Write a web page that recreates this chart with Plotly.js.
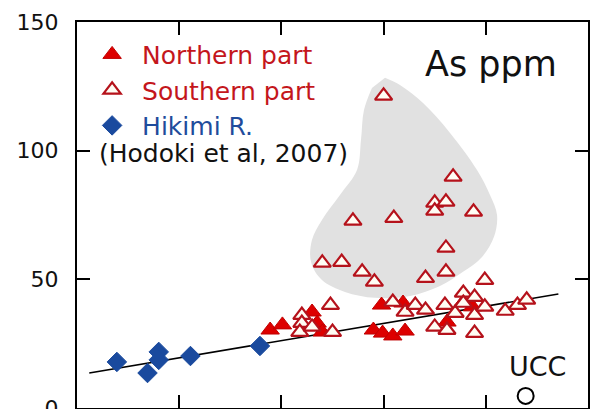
<!DOCTYPE html>
<html>
<head>
<meta charset="utf-8">
<script src="https://cdn.plot.ly/plotly-3.0.1.min.js"></script>
<style>html,body{margin:0;padding:0;background:#fff;}#chart{width:590px;height:409px;}</style>
</head>
<body>
<div id="chart"></div>
<script>
// Northern part (filled triangles)
const northX = [1.89, 2.01, 2.30, 2.35, 2.40, 2.90, 2.99, 3.09, 3.21, 2.98, 3.19, 3.78, 3.87, 3.62];
const northY = [30.3, 32.3, 37.3, 33.0, 29.5, 30.3, 29.1, 28.0, 29.9, 40.0, 40.8, 41.2, 39.3, 33.4];
// Southern part (open triangles)
const southX = [3.00, 3.68, 3.50, 3.61, 3.50, 3.88, 2.70, 3.10, 3.61, 2.40, 2.59, 2.79, 2.91, 3.41, 3.61, 3.99,
                2.48, 2.20, 2.20, 2.18, 2.30, 2.50, 3.09, 3.21, 3.31, 3.41, 3.60, 3.70, 3.50, 3.62, 3.78, 3.89,
                3.78, 3.89, 3.99, 3.89, 4.19, 4.31, 4.40];
const southY = [121.3, 89.8, 79.7, 80.1, 76.6, 76.2, 72.7, 73.8, 62.2, 56.4, 56.7, 52.9, 49.0, 50.5, 52.9, 49.7,
                40.0, 36.1, 33.0, 29.5, 31.5, 29.5, 41.2, 37.3, 40.0, 38.1, 40.0, 36.9, 31.5, 30.3, 44.7, 43.1,
                40.8, 36.1, 39.3, 29.1, 37.7, 40.0, 42.0];
// Hikimi R. (Hodoki et al, 2007)
const hikimiX = [0.39, 0.69, 0.80, 0.80, 1.11, 1.79];
const hikimiY = [17.9, 13.6, 21.8, 18.7, 20.2, 24.1];
// UCC
const uccX = [4.39];
const uccY = [4.7];
// Regression line end points
const fitX = [0.12, 4.71];
const fitY = [13.6, 44.3];
// Grey field outline
const fieldX = [3.014, 3.160, 3.386, 3.650, 3.914, 4.041, 4.110, 4.080, 3.963, 3.777, 3.552, 3.258, 2.916, 2.622,
                2.397, 2.290, 2.299, 2.397, 2.573, 2.740, 2.779, 2.808, 2.886];
const fieldY = [128.3, 125.5, 118.5, 106.9, 92.5, 82.8, 75.0, 66.5, 58.7, 52.9, 47.4, 43.5, 42.8, 45.1,
                49.7, 56.7, 65.3, 73.1, 82.8, 92.5, 104.2, 115.8, 124.4];
const yTicks = [0, 50, 100, 150];

const FONT = 'DejaVu Sans, Verdana, sans-serif';

const traces = [
  {x: fieldX, y: fieldY, mode: 'lines', fill: 'toself', fillcolor: '#e1e1e1',
   line: {width: 0, shape: 'spline', smoothing: 1}, showlegend: false, hoverinfo: 'skip'},
  {x: fitX, y: fitY, mode: 'lines', line: {color: '#000', width: 1.6}, showlegend: false, hoverinfo: 'skip'},
  {x: northX, y: northY, mode: 'markers', name: '<span style="color:#c4161c">Northern part</span>', legendrank: 1,
   marker: {symbol: 'triangle-up', size: 16, color: '#dd0000', line: {color: '#c00000', width: 1}}},
  {x: southX, y: southY, mode: 'markers', name: '<span style="color:#c4161c">Southern part</span>', legendrank: 2,
   marker: {symbol: 'triangle-up', size: 15, color: '#fffdf4', line: {color: '#b5121b', width: 2.2}}},
  {x: hikimiX, y: hikimiY, mode: 'markers', name: '<span style="color:#1f4c9c">Hikimi R.</span>', legendrank: 3,
   marker: {symbol: 'diamond', size: 15, color: '#1a4a9e', line: {color: '#1a4a9e', width: 1}}},
  {x: uccX, y: uccY, mode: 'markers', showlegend: false,
   marker: {symbol: 'circle-open', size: 16, color: '#000', line: {color: '#000', width: 2}}}
];

const layout = {
  width: 590, height: 409,
  margin: {l: 77, r: 2, t: 22, b: 1, pad: 0},
  paper_bgcolor: '#fff', plot_bgcolor: '#fff',
  font: {family: FONT, color: '#111', size: 22},
  showlegend: true,
  legend: {x: 0.01, y: 0.975, xanchor: 'left', yanchor: 'top', bgcolor: 'rgba(0,0,0,0)',
           font: {family: FONT, size: 25}, itemwidth: 50, tracegroupgap: 0},
  xaxis: {range: [0, 5], dtick: 1, tick0: 0, showticklabels: false, showgrid: false, zeroline: false,
          showline: true, linecolor: '#000', linewidth: 2, mirror: 'ticks',
          ticks: 'inside', ticklen: 13, tickwidth: 2, tickcolor: '#000', fixedrange: true},
  yaxis: {range: [0, 150], tickvals: yTicks, ticktext: yTicks.map(String), showgrid: false, zeroline: false,
          showline: true, linecolor: '#000', linewidth: 2, mirror: 'ticks', ticklabeloverflow: 'allow',
          ticks: 'inside', ticklen: 13, tickwidth: 2, tickcolor: '#000', ticklabelstandoff: 12,
          tickfont: {family: FONT, size: 22, color: '#111'}, fixedrange: true},
  annotations: [
    {xref: 'paper', yref: 'paper', x: (97 - 77) / 511, y: (408 - 153) / 386, xanchor: 'left', yanchor: 'middle',
     text: '(Hodoki et al, 2007)', showarrow: false, font: {family: FONT, size: 25, color: '#111'}},
    {xref: 'paper', yref: 'paper', x: (491 - 77) / 511, y: (408 - 64) / 386, xanchor: 'center', yanchor: 'middle',
     text: 'As ppm', showarrow: false, font: {family: FONT, size: 35, color: '#111'}},
    {xref: 'paper', yref: 'paper', x: (537 - 77) / 511, y: (408 - 366) / 386, xanchor: 'center', yanchor: 'middle',
     text: 'UCC', showarrow: false, font: {family: FONT, size: 27, color: '#111'}}
  ]
};

Plotly.newPlot('chart', traces, layout, {displayModeBar: false, staticPlot: true});
</script>
</body>
</html>
